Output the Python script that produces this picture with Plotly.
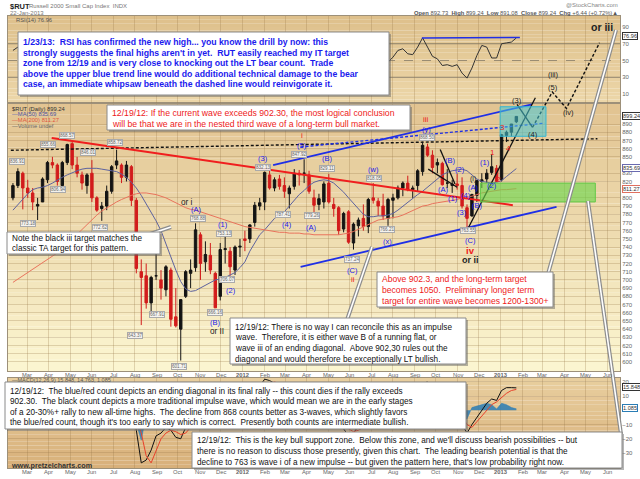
import plotly.graph_objects as go
import pandas as pd

W, H = 640, 479

# ---------------- data (weekly bars) ----------------
first_week = "2011-02-09"
rut_open = [800, 815, 830, 812, 806, 790, 795, 822, 843, 840,
            815, 843, 866, 840, 828, 815, 830, 800, 787, 790,
            808, 840, 840, 825, 838, 797, 710, 705, 672, 705,
            700, 688, 712, 655, 640, 680, 708, 715, 755, 722,
            730, 708, 680, 737, 735, 712, 740, 750, 750, 770,
            790, 795, 828, 812, 823, 815, 805, 814, 830, 830,
            828, 800, 792, 795, 818, 792, 788, 762, 783, 745,
            766, 775, 765, 800, 796, 790, 775, 797, 800, 812,
            818, 810, 815, 832, 862, 852, 840, 842, 818, 815,
            817, 815, 788, 778, 803, 820, 823, 831, 836, 822,
            876, 880, 892.73]
rut_high = [818, 836, 832, 822, 812, 800, 825, 845, 850, 842,
            845, 866, 868.57, 850, 832, 830, 846, 802, 795, 815,
            840, 858.7, 842, 845, 840, 800, 725, 720, 705, 745,
            712, 718, 715, 690, 676, 712, 725, 769, 758, 747,
            745, 710, 745, 753, 740, 742, 750, 760, 768, 795,
            800, 832, 834, 825, 828, 825, 815, 835, 834, 847,
            833, 810, 805, 820, 829, 800, 790, 783, 785, 770,
            776, 792, 800, 818, 800, 805, 800, 805, 815, 820,
            827, 815, 835, 868.5, 866, 858, 848, 844, 835, 822,
            829, 825, 792, 805, 822, 830, 835, 853, 840, 878,
            882, 890, 899.24]
rut_low = [797, 812, 786, 800, 785, 773, 795, 818, 836, 815,
           806, 840, 835, 825, 810, 805, 795, 783, 772, 785,
           805, 835, 818, 820, 790, 708, 645, 665, 660, 700,
           676, 680, 643, 642, 601.71, 678, 690, 710, 700, 710,
           707, 666, 675, 720, 705, 706, 728, 735, 745, 765,
           785, 785, 810, 808, 810, 800, 787, 810, 815, 818,
           805, 779, 785, 787, 793, 777, 755, 758, 744, 737,
           753, 760, 757, 793, 778, 773, 766, 775, 798, 802,
           808, 800, 808, 827, 850, 830, 830, 815, 812, 806,
           810, 787, 763.55, 777, 795, 812, 818, 828, 820, 820,
           868, 875, 891.08]
rut_close = [815, 832, 812, 806, 795, 792, 823, 843, 840, 820,
             843, 865, 840, 830, 818, 828, 800, 785, 790, 808,
             838, 845, 825, 840, 797, 714, 703, 672, 703, 705,
             690, 716, 652, 644, 676, 710, 712, 761, 720, 731,
             712, 666, 737, 738, 716, 740, 741, 748, 767, 791,
             794, 831, 812, 822, 814, 808, 812, 830, 828, 830,
             808, 791, 799, 817, 795, 787, 760, 781, 746, 768,
             773, 765, 798, 797, 790, 778, 798, 800, 812, 818,
             810, 812, 833, 864, 852, 837, 843, 816, 818, 817,
             815, 790, 775, 804, 821, 822, 830, 838, 820, 877,
             880, 890, 899.24]
ma50 = [785, 792, 798, 805, 810, 812, 813, 815, 818, 822,
        825, 828, 831, 833, 835, 836, 836, 836, 835, 834,
        833, 832, 829, 825, 819, 812, 803, 793, 783, 772,
        760, 745, 728, 712, 698, 689, 686, 687, 690, 694,
        697, 700, 701, 703, 706, 709, 715, 722, 735, 745,
        755, 761, 768, 775, 779, 783, 790, 797, 804, 809,
        815, 819, 821, 822, 821, 818, 813, 807, 800, 793,
        786, 780, 777, 777, 778, 778, 779, 781, 785, 790,
        795, 800, 804, 808, 813, 819, 824, 828, 831, 833,
        834, 835, 833, 828, 823, 820, 819, 818, 819, 821,
        826, 831, 835.69]
ma200 = [697, 701, 705, 709, 713, 716, 720, 724, 728, 733,
         738, 744, 750, 756, 762, 768, 774, 779, 784, 788,
         792, 795, 798, 801, 803, 805, 806, 806, 805, 804,
         802, 800, 797, 794, 790, 788, 786, 785, 783, 781,
         779, 777, 775, 773, 771, 769, 767, 765, 764, 763,
         762, 761, 760, 759, 758, 758, 757, 757, 757, 756,
         756, 755, 755, 755, 755, 755, 755, 756, 757, 759,
         762, 765, 768, 771, 773, 774, 775, 776, 777, 779,
         782, 785, 788, 790, 791, 793, 794, 795, 796, 797,
         798, 800, 801, 802, 804, 806, 807, 808, 809, 810,
         810, 811, 811.27]
rsi14 = [62, 66, 52, 50, 45, 42, 55, 63, 62, 50,
         58, 66, 55, 50, 45, 48, 42, 36, 38, 48,
         60, 62, 50, 56, 42, 25, 28, 33, 40, 46,
         42, 50, 38, 36, 45, 55, 56, 64, 55, 56,
         48, 38, 55, 56, 47, 55, 56, 58, 64, 70,
         68, 74, 62, 63, 58, 54, 52, 62, 60, 61,
         50, 42, 47, 56, 52, 45, 35, 45, 35, 45,
         50, 47, 58, 60, 52, 47, 48, 54, 62, 64,
         58, 57, 66, 77, 66, 55, 52, 44, 45, 43,
         45, 35, 29, 41, 56, 68, 66, 53, 53, 70,
         71, 72, 76.96]
macd_line = [12, 14, 9, 6, 2, -3, 0, 6, 9, 6,
             7, 12, 10, 6, 0, -2, -2, -8, -12, -8,
             0, 6, 5, 4, -2, -14, -37, -35, -28, -18,
             -16, -12, -14, -19, -20, -12, -6, 5, 6, 5,
             1, -8, -2, 3, -1, 2, 4, 6, 9, 14,
             17, 22, 21, 19, 16, 13, 9, 11, 12, 12,
             7, 0, -1, 2, 2, -3, -12, -13, -18, -16,
             -11, -8, -2, 4, 3, 0, -1, 2, 6, 9,
             9, 8, 12, 19, 20, 15, 12, 5, 1, -3,
             -4, -10, -16, -10, -5, 0, 5, 8, 7, 14,
             16, 16, 15.848]
macd_signal = [10, 12, 12, 10, 7, 3, 1, 2, 5, 6,
               6, 8, 10, 8, 5, 2, 0, -3, -7, -8,
               -5, -1, 2, 3, 1, -5, -16, -32, -37, -28,
               -20, -16, -14, -15, -17, -16, -12, -5, 0, 3,
               3, -1, -2, 0, 0, 1, 2, 3, 5, 8,
               12, 16, 19, 20, 19, 17, 14, 12, 12, 12,
               10, 6, 3, 2, 2, 0, -5, -9, -13, -15,
               -14, -12, -8, -3, 0, 1, 0, 1, 3, 6,
               8, 8, 10, 13, 17, 17, 15, 11, 7, 3,
               0, -4, -10, -12, -8, -4, 0, 4, 6, 9,
               12, 14, 14.763]
macd_hist = [2, 2, -3, -4, -5, -6, -1, 4, 4, 0,
             1, 4, 0, -2, -5, -4, -2, -5, -5, 0,
             5, 7, 3, 1, -3, -9, -21, -3, 9, 10,
             4, 4, 0, -4, -3, 4, 6, 10, 6, 2,
             -2, -7, 0, 3, -1, 1, 2, 3, 4, 6,
             5, 6, 2, -1, -3, -4, -5, -1, 0, 0,
             -3, -6, -4, 0, 0, -3, -7, -4, -5, -1,
             3, 4, 6, 7, 3, -1, -1, 1, 3, 3,
             1, 0, 2, 6, 3, -2, -3, -6, -6, -6,
             -4, -6, -6, 2, 3, 4, 5, 4, 1, 5,
             4, 2, 1.085]

# analyst drawings (dates / prices)
red_bear_dates = ["2011-04-05", "2013-01-18"]
red_bear_vals = [873, 791]
black_dash_dates = ["2011-02-06", "2013-05-18"]
black_dash_vals = [858, 872]
blue_upper_dates = ["2012-02-13", "2013-02-14"]
blue_upper_vals = [840, 914]
blue_dash_dates = ["2012-03-23", "2013-03-04"]
blue_dash_vals = [862, 891]
blue_lower_dates = ["2012-03-23", "2013-03-21"]
blue_lower_vals = [716, 789]
black_b1_dates = ["2012-09-20", "2012-10-31"]
black_b1_vals = [835, 813]
black_b2_dates = ["2012-10-07", "2012-10-28"]
black_b2_vals = [859, 817]
black_chan_dates = ["2012-11-15", "2013-02-19"]
black_chan_vals = [762, 922]
wave34_dates = ["2013-01-24", "2013-02-15"]
wave34_vals = [914, 886]
proj_dates = ["2013-02-15", "2013-03-15", "2013-04-04", "2013-05-21"]
proj_vals = [886, 929, 909, 989]
rsi_line_dates = ["2012-09-11", "2013-01-28"]
rsi_line_vals = [77, 77.5]
target_zone_dates = ["2012-12-31", "2013-03-06"]
target_zone_vals = [875, 911]
support_zone_dates = ["2012-12-03", "2013-05-15"]
support_zone_vals = [795, 818]
price_ticks = [v for v in range(600, 900, 10) if v not in (810, 840)]
rsi_ticks = [10, 30, 50, 70, 90]
macd_ticks = [-30, -20, -10, 10, 20]

dates = pd.date_range(first_week, periods=len(rut_close), freq="7D")
month_ticks = pd.date_range("2011-03-01", "2013-06-01", freq="MS")
month_text = [("<b>%d</b>" % d.year) if d.month == 1 else d.strftime("%b") for d in month_ticks]

FONT = "Liberation Sans, Arial, sans-serif"


def X(px):
    return px / W


def Y(py):
    return 1 - py / H


fig = go.Figure()

# ---------------- price panel ----------------
fig.add_trace(go.Candlestick(
    x=dates, open=rut_open, high=rut_high, low=rut_low, close=rut_close,
    xaxis="x", yaxis="y", whiskerwidth=0,
    increasing=dict(line=dict(color="#141414", width=1), fillcolor="#141414"),
    decreasing=dict(line=dict(color="#d21c1c", width=1), fillcolor="#d21c1c"),
    showlegend=False, hoverinfo="skip"))
fig.add_trace(go.Scatter(x=dates, y=ma50, mode="lines", xaxis="x", yaxis="y",
                         line=dict(color="#5d629e", width=1), showlegend=False))
fig.add_trace(go.Scatter(x=dates, y=ma200, mode="lines", xaxis="x", yaxis="y",
                         line=dict(color="#e9735c", width=1), showlegend=False))

# ---------------- RSI ----------------
fig.add_trace(go.Scatter(x=dates, y=rsi14, mode="lines", xaxis="x2", yaxis="y2",
                         line=dict(color="#333333", width=1), showlegend=False))
fig.add_trace(go.Scatter(x=rsi_line_dates, y=rsi_line_vals, mode="lines", xaxis="x2", yaxis="y2",
                         line=dict(color="#1f2fe6", width=1.5), showlegend=False))

# ---------------- MACD ----------------
fig.add_trace(go.Scatter(x=dates, y=macd_hist, mode="lines", fill="tozeroy", xaxis="x3", yaxis="y3",
                         line=dict(color="#2a7db5", width=0.5), fillcolor="rgba(42,125,181,0.85)",
                         showlegend=False))
fig.add_trace(go.Scatter(x=dates, y=macd_line, mode="lines", xaxis="x3", yaxis="y3",
                         line=dict(color="#111111", width=1), showlegend=False))
fig.add_trace(go.Scatter(x=dates, y=macd_signal, mode="lines", xaxis="x3", yaxis="y3",
                         line=dict(color="#e8402a", width=1), showlegend=False))

# ---------------- drawings (overlay axis spanning RSI + price) ----------------
def draw(xs, ys, color, width, dash=None):
    fig.add_trace(go.Scatter(x=xs, y=ys, mode="lines", xaxis="x4", yaxis="y4",
                             line=dict(color=color, width=width, dash=dash),
                             showlegend=False, hoverinfo="skip"))


draw(black_dash_dates, black_dash_vals, "#111111", 1.4, "3px,2px")
draw(red_bear_dates, red_bear_vals, "#f01e1e", 2)
draw(blue_upper_dates, blue_upper_vals, "#1f2fe6", 1.8)
draw(blue_dash_dates, blue_dash_vals, "#1f2fe6", 1.4, "3px,2px")
draw(blue_lower_dates, blue_lower_vals, "#1f2fe6", 1.8)
draw(black_b1_dates, black_b1_vals, "#111111", 1.3)
draw(black_b2_dates, black_b2_vals, "#111111", 1.3)
draw(black_chan_dates, black_chan_vals, "#111111", 1.3)
draw(wave34_dates, wave34_vals, "#111111", 1.3)
draw(proj_dates, proj_vals, "#111111", 1.4, "3px,2px")

shapes = []


def gradient(x0, y0, x1, y1, ctop, cbot, n=24):
    for i in range(n):
        t = i / (n - 1)
        c = tuple(round(ctop[k] + (cbot[k] - ctop[k]) * t) for k in range(3))
        ya = y0 + (y1 - y0) * i / n
        yb = y0 + (y1 - y0) * (i + 1) / n
        shapes.append(dict(type="rect", xref="paper", yref="paper", layer="below",
                           x0=X(x0), x1=X(x1), y0=Y(yb), y1=Y(ya),
                           fillcolor="rgb(%d,%d,%d)" % c, line=dict(width=0)))


gradient(8, 16, 620, 103, (222, 192, 140), (236, 214, 168))
gradient(8, 103, 620, 371, (226, 196, 146), (251, 245, 208))
gradient(8, 378, 620, 468, (232, 206, 158), (216, 176, 122))

# RSI 70 / 30 / 50 lines
for lv, dsh, col in [(70, "solid", "#8d8068"), (30, "solid", "#8d8068"), (50, "dash", "#9a8c72")]:
    shapes.append(dict(type="line", xref="paper", yref="y2", x0=X(8), x1=X(620), y0=lv, y1=lv,
                       line=dict(color=col, width=1, dash=dsh), layer="below"))

# target / support zones
shapes.append(dict(type="rect", xref="x4", yref="y4", layer="above",
                   x0=target_zone_dates[0], x1=target_zone_dates[1],
                   y0=target_zone_vals[0], y1=target_zone_vals[1],
                   fillcolor="rgba(70,200,215,0.55)", line=dict(color="#33b6d2", width=1)))
shapes.append(dict(type="rect", xref="x4", yref="y4", layer="above",
                   x0=support_zone_dates[0], x1=support_zone_dates[1],
                   y0=support_zone_vals[0], y1=support_zone_vals[1],
                   fillcolor="rgba(105,215,75,0.62)", line=dict(color="#62c848", width=1)))

ann = []


def box(x0, y0, x1, y1):
    shapes.append(dict(type="rect", xref="paper", yref="paper", layer="above",
                       x0=X(x0 + 2), x1=X(x1 + 2), y0=Y(y1 + 2), y1=Y(y0 + 2),
                       fillcolor="rgba(90,90,90,0.45)", line=dict(width=0)))
    shapes.append(dict(type="rect", xref="paper", yref="paper", layer="above",
                       x0=X(x0), x1=X(x1), y0=Y(y1), y1=Y(y0),
                       fillcolor="white", line=dict(color="#8a8a8a", width=1)))


def txt(px, py, s, color="#111", size=8.5, bold=False, anchor="left", bg=None, border=None, family=FONT):
    s = s.replace("  ", "&nbsp; ")
    d = dict(x=X(px), y=Y(py), xref="paper", yref="paper", text=("<b>%s</b>" % s) if bold else s,
             showarrow=False, xanchor=anchor, yanchor="middle",
             font=dict(family=family, size=size, color=color))
    if bg:
        d.update(bgcolor=bg, borderpad=0)
    if border:
        d.update(bordercolor=border, borderwidth=1)
    ann.append(d)


def pointer(xa, ya, xb, yb):
    shapes.append(dict(type="line", xref="paper", yref="paper", layer="above",
                       x0=X(xa), y0=Y(ya), x1=X(xb), y1=Y(yb), line=dict(color="#8c8c8c", width=4)))
    shapes.append(dict(type="line", xref="paper", yref="paper", layer="above",
                       x0=X(xa), y0=Y(ya), x1=X(xb), y1=Y(yb), line=dict(color="#ffffff", width=1.6)))


pointer(548, 274, 616, 30)
pointer(621, 434, 588, 201)
pointer(347, 320, 372, 247)
pointer(150, 234, 171, 227)

BLUE = "#1a1aee"
RED = "#ee1a1a"

box(18, 32, 389, 95)
for i, s in enumerate([
        "1/23/13:  RSI has confirmed the new high... you know the drill by now: this",
        "strongly suggests the final highs aren't in yet.  RUT easily reached my IT target",
        "zone from 12/19 and is very close to knocking out the LT bear count.  Trade",
        "above the upper blue trend line would do additional technical damage to the bear",
        "case, an immediate whipsaw beneath the dashed line would reinvigorate it."]):
    txt(21, 42 + i * 10.5, s, BLUE, 8.7, bold=True)

box(107, 105, 410, 130)
for i, s in enumerate([
        "12/19/12: If the current wave exceeds 902.30, the most logical conclusion",
        "will be that we are in the nested third wave of a long-term bull market."]):
    txt(110, 113 + i * 11, s, RED, 8.7)

box(7, 232, 160, 254)
for i, s in enumerate(["Note the black iii target matches the", "classic TA target for this pattern."]):
    txt(10, 238 + i * 10.5, s, "#111", 8.2)

box(230, 318, 466, 364)
for i, s in enumerate([
        "12/19/12: There is no way I can reconcile this as an impulse",
        "wave.  Therefore, it is either wave B of a running flat, or",
        "wave iii of an ending diagonal.  Above 902,30 rules out the",
        "diagonal and would therefore be exceptionally LT bullish."]):
    txt(233, 327 + i * 10.7, s, "#111", 8.2)

box(377, 272, 553, 307)
for i, s in enumerate([
        "Above 902.3, and the long-term target",
        "becomes 1050.  Preliminary longer term",
        "target for entire wave becomes 1200-1300+"]):
    txt(380, 279 + i * 11, s, RED, 8.6)

box(5, 382, 466, 429)
for i, s in enumerate([
        "12/19/12:  The blue/red count depicts an ending diagonal in its final rally -- this count dies if the rally exceeds",
        "902.30.  The black count depicts a more traditional impulse wave, which would mean we are in the early stages",
        "of a 20-30%+ rally to new all-time highs.  The decline from 868 counts better as 3-waves, which slightly favors",
        "the blue/red count, though it's too early to say which is correct.  Presently both counts are intermediate bullish."]):
    txt(8, 391 + i * 10.5, s, "#111", 8.2)

box(192, 432, 622, 468)
for i, s in enumerate([
        "12/19/12:  This is the key bull support zone.  Below this zone, and we'll discuss bearish possibilities -- but",
        "there is no reason to discuss those presently, given this chart.  The leading bearish potential is that the",
        "decline to 763 is wave i of a new impulse -- but given the pattern here, that's low probability right now."]):
    txt(195, 440 + i * 11, s, "#111", 8.2)

# ---------------- headers & legends ----------------
txt(8, 6, "$RUT", "#222", 7.5, bold=True)
txt(27, 6, "Russell 2000 Small Cap Index  INDX", "#777", 6)
txt(8, 13, "22-Jan-2013", "#777", 6)
txt(620, 5, "@StockCharts.com", "#888", 6, anchor="right")
txt(620, 12.5, "<b>Open</b> 892.73  <b>High</b> 899.24  <b>Low</b> 891.08  <b>Close</b> 899.24  <b>Chg</b> +6.44 (+0.72%)\u25b2",
    "#555", 5.8, anchor="right")
txt(14, 19.5, "RSI(14) 76.96", "#555", 5.8)
txt(10, 109, "$RUT (Daily) 899.24", "#333", 5.8)
txt(10, 114.5, "\u2014MA(50) 835.69", "#4e53a0", 5.8)
txt(10, 120, "\u2014MA(200) 811.27", "#e0563e", 5.8)
txt(10, 125.5, "\u2014Volume undef", "#666", 5.8)
txt(10, 379.5, "\u2014MACD(12,26,9) 15.848, 14.763, 1.085", "#555", 5.5)
txt(9, 465, "www.pretzelcharts.com", "#333", 7.2, bold=True)

# month labels under the price and MACD panels
for d, s in zip(month_ticks, month_text):
    for py in (375, 472):
        ann.append(dict(x=d, y=Y(py), xref="x", yref="paper", text=s, showarrow=False,
                        xanchor="center", yanchor="middle", borderpad=0,
                        font=dict(family=FONT, size=5.8, color="#666")))

# right-side value flags
for py, s, bc in [(116, "899.24", "#333"), (168, "835.69", "#6a6ab0"), (189, "811.27", "#e07060"),
                  (36, "76.96", "#333"), (387, "15.848", "#333"), (408, "1.085", "#2a7db5")]:
    txt(622, py, s, "#333", 5.6, bg="white", border=bc)

# small price flags
for px, py, s in [(17, 161, "836.91"), (28, 223, "773.18"), (48, 144, "855.66"), (58, 190, "806.94"),
                  (67, 136, "868.57"), (88, 152, "846.01"), (100, 227, "772.62"), (115, 142, "858.72"),
                  (135, 335, "643.37"), (157, 314, "667.91"), (179, 366, "601.71"), (198, 218, "768.88"),
                  (215, 312, "666.16"), (224, 233, "753.13"), (227, 279, "706.07"), (263, 167, "832.13"),
                  (283, 214, "787.41"), (299, 154, "847.92"), (312, 216, "779.26"), (327, 168, "829.11"),
                  (352, 259, "737.24"), (374, 178, "818.05"), (387, 230, "766.21"), (427, 138, "868.50"),
                  (468, 231, "763.55")]:
    txt(px, py, s, "#666", 4.6, anchor="center", bg="rgba(245,245,245,0.9)", border="#aaa")

# wave labels
for px, py, s in [(196, 209, "(A)"), (223, 224, "(1)"), (231, 290, "(2)"), (215, 322, "(B)"),
                  (263, 158, "(3)"), (287, 224, "(4)"), (302, 145, "(5)"), (311, 227, "(A)"),
                  (327, 158, "(B)"), (352, 270, "(C)"), (373, 169, "(w)"), (387, 241, "(x)"),
                  (426, 129.5, "(y)"), (450, 160, "(B)"), (460, 169, "(2)"), (443, 190, "(A)"),
                  (453, 198, "(1)"), (466, 195, "(4)"), (462, 212, "(3)"), (473, 187, "(A)"),
                  (477, 205, "(B)"), (470, 240, "(C)"), (485, 163, "(1)"), (492, 185, "(2)")]:
    txt(px, py, s, BLUE, 7.5, anchor="center")
for px, py, s in [(302, 136, "i"), (353, 279, "ii"), (426, 119, "iii"), (502, 127, "3"),
                  (508, 148, "4"), (492, 152, "1"), (498, 179, "2")]:
    txt(px, py, s, RED, 8, anchor="center")
txt(470, 250, "iv", RED, 9.5, bold=True, anchor="center")
for px, py, s, sz, b in [(187, 203, "or i", 8.2, False), (217, 331, "or II", 8.2, False),
                         (470, 260, "or ii", 9, True), (473, 179, "(i)", 7, False),
                         (517, 101, "(3)", 7.5, False), (533, 135, "(4)", 7.5, False),
                         (553, 87, "(5)", 7.5, False), (553, 74, "(iii)", 7.5, False),
                         (568, 112, "(iv)", 7.5, False), (602, 27, "or iii", 10.5, True)]:
    txt(px, py, s, "#222", sz, bold=b, anchor="center")

# ---------------- axes ----------------
GRID = "rgba(150,118,72,0.28)"
BORDER = "#9d9079"
xrange_ = ["2011-02-02", "2013-06-19"]
xcommon = dict(type="date", range=xrange_, domain=[X(8), X(620)], tickvals=month_ticks,
               showticklabels=False,
               showgrid=True, gridcolor=GRID, gridwidth=1, showline=True, mirror=True, linecolor=BORDER,
               linewidth=1, ticks="", zeroline=False)
ycommon = dict(side="right", showgrid=True, gridcolor=GRID, gridwidth=1, showline=True, mirror=True,
               linecolor=BORDER, linewidth=1, ticks="", zeroline=False,
               tickfont=dict(family=FONT, size=6, color="#666"))

fig.update_layout(
    width=W, height=H, autosize=False, margin=dict(l=0, r=0, t=0, b=0),
    paper_bgcolor="white", plot_bgcolor="rgba(0,0,0,0)", showlegend=False,
    xaxis=dict(xcommon, anchor="y", rangeslider=dict(visible=False)),
    yaxis=dict(ycommon, anchor="x", domain=[Y(371), Y(103)], range=[589.0, 915.6],
               tickvals=price_ticks),
    xaxis2=dict(xcommon, anchor="y2", matches="x"),
    yaxis2=dict(ycommon, anchor="x2", domain=[Y(103), Y(16)], range=[-0.7, 103.1],
                tickvals=rsi_ticks, showgrid=False),
    xaxis3=dict(xcommon, anchor="y3", matches="x"),
    yaxis3=dict(ycommon, anchor="x3", domain=[Y(468), Y(378)], range=[-40.6, 22.8],
                tickvals=macd_ticks),
    xaxis4=dict(type="date", range=xrange_, domain=[X(8), X(620)], anchor="y4", matches="x", visible=False,
                showgrid=False),
    yaxis4=dict(anchor="x4", domain=[Y(371), Y(16)], range=[589.0, 1021.6], visible=False, showgrid=False),
    shapes=shapes, annotations=ann,
)

fig.write_html("out.html", config={"displayModeBar": False},
               post_script="document.body.style.margin='0';document.body.style.padding='0';"
                           "document.body.style.overflow='hidden';")
